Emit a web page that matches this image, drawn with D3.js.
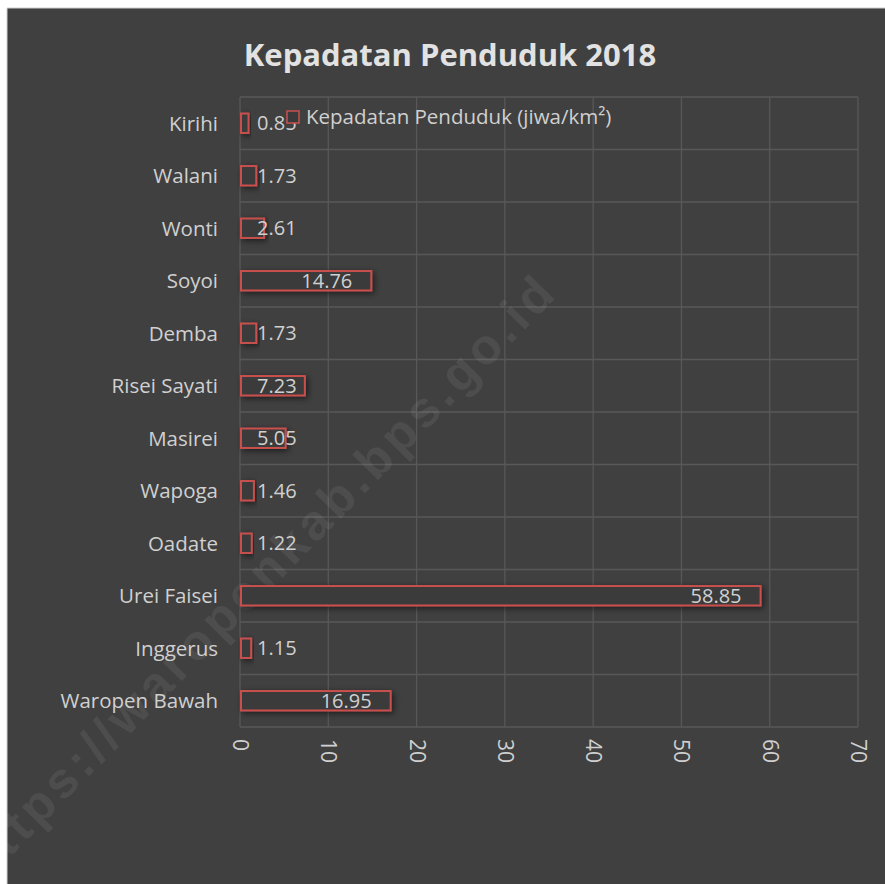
<!DOCTYPE html>
<html>
<head>
<meta charset="utf-8">
<script src="https://cdn.jsdelivr.net/npm/d3@7"></script>
<style>
	body { margin: 0; background: #fff; }
	text { font-family: "Open Sans", "Noto Sans", sans-serif; }
</style>
</head>
<body>
<div id="chart"></div>
<script>
var categories = ["Kirihi", "Walani", "Wonti", "Soyoi", "Demba", "Risei Sayati",
	"Masirei", "Wapoga", "Oadate", "Urei Faisei", "Inggerus", "Waropen Bawah"]
var values = [0.85, 1.73, 2.61, 14.76, 1.73, 7.23, 5.05, 1.46, 1.22, 58.85, 1.15, 16.95]
var xTicks = [0, 10, 20, 30, 40, 50, 60, 70]
var title = "Kepadatan Penduduk 2018"
var seriesName = "Kepadatan Penduduk (jiwa/km²)"
var watermark = "https://waropenkab.bps.go.id"

;(() => run())()

function run() {
	var w = 885
	var h = 884
	var box = { top: 97, bottom: 727, left: 240, right: 858 }
	var red = "#c9504e"
	var txt = "#d0d0d0"

	var svg = d3.select("#chart")
		.append("svg")
		.attr("width", w)
		.attr("height", h)

	var defs = svg.append("defs")
	var f = defs.append("filter")
		.attr("id", "glow")
		.attr("x", "-20%").attr("y", "-60%")
		.attr("width", "140%").attr("height", "220%")
	f.append("feDropShadow")
		.attr("dx", 2).attr("dy", 2)
		.attr("stdDeviation", 3)
		.attr("flood-color", "#000")
		.attr("flood-opacity", 0.55)

	// chart area
	svg.append("rect")
		.attr("x", 7).attr("y", 8)
		.attr("width", w - 7).attr("height", h - 8)
		.attr("fill", "#404040")
	svg.append("line")
		.attr("x1", 7).attr("x2", w).attr("y1", 8).attr("y2", 8)
		.attr("stroke", "#d0d0d0")
	svg.append("line")
		.attr("x1", 7).attr("x2", 7).attr("y1", 8).attr("y2", h)
		.attr("stroke", "#d0d0d0")

	var x = d3.scaleLinear()
		.domain([0, 70])
		.range([box.left, box.right])

	var y = d3.scaleBand()
		.domain(categories)
		.range([box.top, box.bottom])
		.paddingInner(0.63)
		.paddingOuter(0.315)

	var step = y.step()

	// gridlines
	var grid = svg.append("g").attr("stroke", "#585858").attr("stroke-width", 1.3)
	grid.selectAll("line.v")
		.data(xTicks)
		.enter()
		.append("line")
		.attr("x1", d => x(d)).attr("x2", d => x(d))
		.attr("y1", box.top).attr("y2", box.bottom)
	grid.selectAll("line.h")
		.data(d3.range(categories.length + 1))
		.enter()
		.append("line")
		.attr("class", "h")
		.attr("x1", box.left).attr("x2", box.right)
		.attr("y1", i => box.top + i * step).attr("y2", i => box.top + i * step)

	// watermark (runs off the left edge, as in the source)
	svg.append("text")
		.attr("transform", "translate(258,578) rotate(-45.7)")
		.attr("text-anchor", "middle")
		.attr("dy", "0.35em")
		.attr("textLength", 820)
		.style("font-family", "'Liberation Sans', Arial, sans-serif")
		.style("font-weight", "bold")
		.style("font-size", "50px")
		.attr("fill", "#ffffff")
		.attr("fill-opacity", 0.07)
		.text(watermark)

	// bars
	svg.append("g")
		.selectAll("rect")
		.data(values)
		.enter()
		.append("rect")
		.attr("x", x(0) + 1)
		.attr("y", (d, i) => y(categories[i]))
		.attr("width", d => x(d) - x(0))
		.attr("height", y.bandwidth())
		.attr("fill", "#3a3a3a")
		.attr("stroke", red)
		.attr("stroke-width", 2)
		.attr("filter", "url(#glow)")

	// value labels
	svg.append("g")
		.selectAll("text")
		.data(values)
		.enter()
		.append("text")
		.attr("y", (d, i) => y(categories[i]) + y.bandwidth() / 2)
		.attr("dy", "0.36em")
		.attr("fill", txt)
		.style("font-size", "20px")
		.text(d => d.toFixed(2))
		.each(function (d) {
			var tw = this.getComputedTextLength()
			var left = Math.max(x(0) + 17, x(d) - 18 - tw)
			d3.select(this).attr("x", left)
		})

	// category labels
	svg.append("g")
		.selectAll("text")
		.data(categories)
		.enter()
		.append("text")
		.attr("x", 218)
		.attr("y", d => y(d) + y.bandwidth() / 2)
		.attr("dy", "0.36em")
		.attr("text-anchor", "end")
		.attr("fill", txt)
		.style("font-size", "20.5px")
		.text(d => d)

	// x axis tick labels, rotated
	var xAxis = d3.axisBottom(x)
		.tickValues(xTicks)
		.tickSize(0)
		.tickPadding(0)
	var ax = svg.append("g")
		.attr("transform", "translate(0," + (box.bottom + 12) + ")")
		.call(xAxis)
	ax.select(".domain").remove()
	ax.selectAll("text")
		.attr("transform", "rotate(90)")
		.attr("text-anchor", "start")
		.attr("x", 0)
		.attr("y", 0)
		.attr("dy", "0.36em")
		.attr("fill", txt)
		.style("font-size", "21px")
		.style("font-family", "'Open Sans', sans-serif")

	// title
	svg.append("text")
		.attr("x", 450)
		.attr("y", 66)
		.attr("text-anchor", "middle")
		.attr("fill", "#e2e2e2")
		.style("font-size", "31px")
		.style("font-weight", "bold")
		.text(title)

	// legend
	svg.append("rect")
		.attr("x", 287).attr("y", 111)
		.attr("width", 12).attr("height", 12)
		.attr("fill", "#3a3a3a")
		.attr("stroke", red)
		.attr("stroke-width", 1.5)
	svg.append("text")
		.attr("x", 306)
		.attr("y", 117)
		.attr("dy", "0.36em")
		.attr("fill", txt)
		.style("font-size", "20.5px")
		.text(seriesName)
}
</script>
</body>
</html>
